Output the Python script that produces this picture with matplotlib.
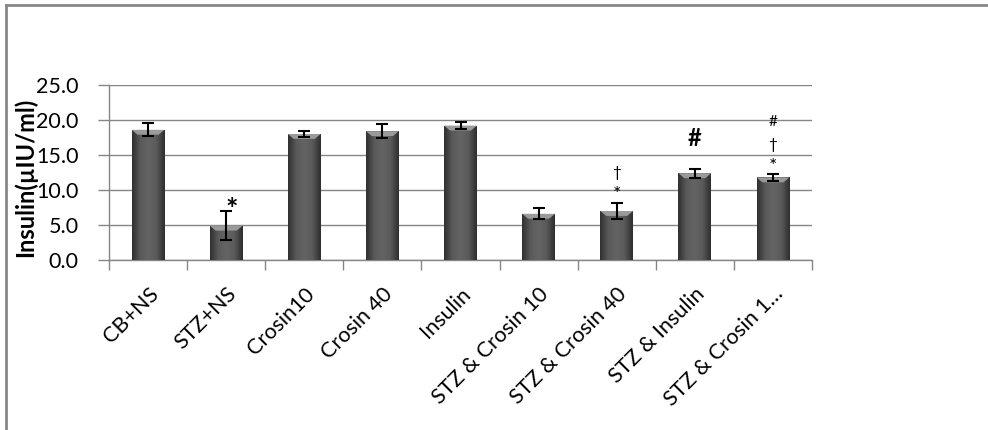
import numpy as np
import matplotlib.pyplot as plt
from matplotlib.colors import LinearSegmentedColormap
from matplotlib.patches import Polygon

# ── Data ──────────────────────────────────────────────────────────────────────
groups = ["CB+NS", "STZ+NS", "Crosin10", "Crosin 40", "Insulin",
          "STZ & Crosin 10", "STZ & Crosin 40", "STZ & Insulin", "STZ & Crosin 1…"]
insulin = [18.6, 4.9, 18.0, 18.4, 19.2, 6.6, 7.0, 12.4, 11.8]
sem     = [0.95, 2.05, 0.4, 1.0, 0.55, 0.8, 1.2, 0.65, 0.45]

# significance marks: (group index, y value, symbol, big?)
marks = [(1, 7.1, "*", True),
         (6, 9.3, "*", False), (6, 12.4, "†", False),
         (7, 17.3, "#", True),
         (8, 13.3, "*", False), (8, 16.4, "†", False), (8, 19.7, "#", False)]

GRID = "#868686"
FONT = ["Lato", "DejaVu Sans"]

# ── Plot ──────────────────────────────────────────────────────────────────────
fig = plt.figure(figsize=(9.88, 4.30), dpi=100)
ax = fig.add_axes([109 / 988, 1 - 260 / 430, 703 / 988, 175 / 430])

x = np.arange(len(groups))
bars = ax.bar(x, insulin, width=0.42, color="#4e4e4e", edgecolor="none",
              zorder=3)

# shaded look: darker sides, lighter middle, pale bevel on top
shade = LinearSegmentedColormap.from_list(
    "shade", ["#303030", "#5a5a5a", "#646464", "#5a5a5a", "#2e2e2e"])
grad = np.linspace(0, 1, 64).reshape(1, -1)
for b in bars:
    x0, w, h = b.get_x(), b.get_width(), b.get_height()
    im = ax.imshow(grad, cmap=shade, aspect="auto", zorder=3.1,
                   extent=(x0, x0 + w, 0, h), interpolation="bicubic")
    im.set_clip_path(b)
    bev = 0.7
    ax.add_patch(Polygon([(x0, h), (x0 + w, h), (x0 + w * 0.82, h - bev),
                          (x0 + w * 0.18, h - bev)], closed=True,
                         facecolor="#9a9a9a", edgecolor="none", zorder=3.2))

ax.errorbar(x, insulin, yerr=sem, fmt="none", ecolor="black",
            elinewidth=1.5, capsize=4.5, capthick=1.5, zorder=4)

for i, y, s, big in marks:
    if big:
        size = 21 if s == "*" else 17
    elif s == "*":
        size = 14
    else:
        size = 11
    ax.text(i + (0.07 if s == "*" and big else 0), y, s, ha="center",
            va="center", fontsize=size,
            fontweight="bold" if big else "normal", color="black",
            family=FONT, zorder=5)

ax.set_xlim(-0.5, len(groups) - 0.5)
ax.set_ylim(0, 25)
ax.set_yticks(np.arange(0, 25.1, 5))
ax.set_yticklabels([f"{v:.1f}" for v in np.arange(0, 25.1, 5)],
                   fontsize=15.5, family=FONT)
ax.yaxis.grid(True, color=GRID, linewidth=1.0, zorder=0)
ax.set_axisbelow(True)

ax.set_xticks(x)
ax.set_xticklabels(groups, rotation=45, ha="right", rotation_mode="anchor",
                   fontsize=15.5, family=FONT)
ax.set_xticks(np.arange(-0.5, len(groups), 1), minor=True)
ax.tick_params(axis="x", which="major", length=0, pad=17)
ax.tick_params(axis="x", which="minor", length=7, color=GRID, width=1.0)
ax.tick_params(axis="y", length=8, color=GRID, width=1.0, pad=14)

for side in ["top", "right"]:
    ax.spines[side].set_visible(False)
for side in ["left", "bottom"]:
    ax.spines[side].set_color(GRID)
    ax.spines[side].set_linewidth(1.0)

fig.text(25 / 988, 1 - 177 / 430, "Insulin(µIU/ml)", rotation=90,
         ha="center", va="center", fontsize=17, fontweight="bold",
         family=FONT)

# outer chart frame (top and left edges only visible)
fig.add_artist(plt.Line2D([5.5 / 988, 5.5 / 988], [0, 1 - 4.5 / 430],
                          transform=fig.transFigure, color="#888888", lw=2))
fig.add_artist(plt.Line2D([5.5 / 988, 1], [1 - 4.5 / 430, 1 - 4.5 / 430],
                          transform=fig.transFigure, color="#888888", lw=2))

fig.savefig("out.png", dpi=100)
